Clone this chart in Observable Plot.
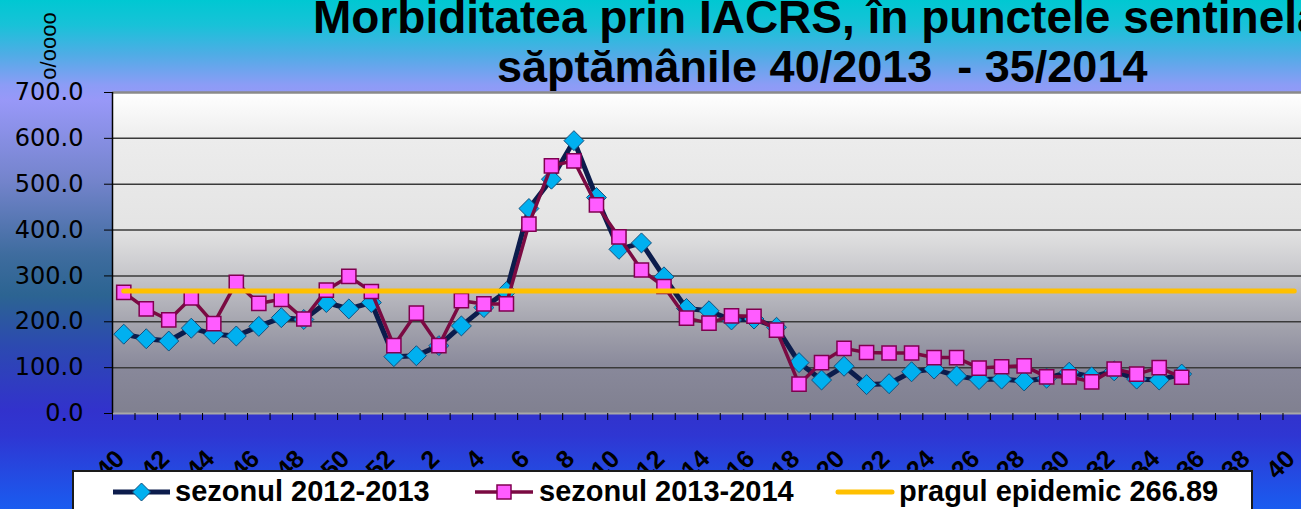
<!DOCTYPE html>
<html>
<head>
<meta charset="utf-8">
<script src="https://cdn.jsdelivr.net/npm/d3@7"></script>
<script src="https://cdn.jsdelivr.net/npm/@observablehq/plot@0.6"></script>
<style>
html, body { margin: 0; padding: 0; }
#wrap {
  position: relative; width: 1301px; height: 509px; overflow: hidden;
  font-family: "Liberation Sans", Arial, sans-serif; color: #000;
  background: linear-gradient(to bottom, #00c8d2 0px, #18c2d8 25px, #50ace6 55px, #8c9cf6 85px, #9898f8 100px, #7484cc 180px, #3e6c9e 255px, #2c6492 295px, #2c4ab0 345px, #3232cc 410px, #2f36d2 435px, #1a5cf0 509px);
}
#chart { position: absolute; left: 0; top: 0; }
.t { position: absolute; white-space: pre; font-weight: bold; line-height: 1; }
#t1 { left: 313px; top: -6px; font-size: 46px; }
#t2 { left: 497px; top: 44px; font-size: 45px; }
#ylab { position: absolute; left: 49px; top: 46px; font-size: 22px; line-height: 1; white-space: nowrap;
  transform: translate(-50%, -50%) rotate(-90deg); }
#legend { position: absolute; left: 72px; top: 470px; width: 1181px; height: 60px; box-sizing: border-box;
  background: #fff; border: 2px solid #1a1a1a; }
.sw { position: absolute; }
.lt { position: absolute; font-weight: bold; font-size: 29px; line-height: 1; white-space: nowrap; top: 477px; }
</style>
</head>
<body>
<div id="wrap">
  <div id="chart"></div>
  <div class="t" id="t1">Morbiditatea prin IACRS, în punctele sentinelă</div>
  <div class="t" id="t2">săptămânile 40/2013  - 35/2014</div>
  <div id="ylab">o/oooo</div>
  <div id="legend"></div>
  <svg class="sw" style="left:113px;top:482px" width="57" height="20">
    <line x1="0" y1="10" x2="57" y2="10" stroke="#0c1c4c" stroke-width="5"/>
    <path d="M28.5,1 L37.5,10 L28.5,19 L19.5,10 Z" fill="#00b0f0" stroke="#14507e" stroke-width="1"/>
  </svg>
  <div class="lt" style="left:175px">sezonul 2012-2013</div>
  <svg class="sw" style="left:475px;top:482px" width="58" height="20">
    <line x1="0" y1="10" x2="58" y2="10" stroke="#7a0a42" stroke-width="3.5"/>
    <rect x="22" y="3" width="14" height="14" fill="#ff5cff" stroke="#800050" stroke-width="1.5"/>
  </svg>
  <div class="lt" style="left:539px">sezonul 2013-2014</div>
  <svg class="sw" style="left:835px;top:482px" width="60" height="20">
    <line x1="3" y1="10" x2="57" y2="10" stroke="#ffc000" stroke-width="5" stroke-linecap="round"/>
  </svg>
  <div class="lt" style="left:899px">pragul epidemic 266.89</div>
</div>
<script>
// Week labels of the category axis (40/2013 ... 40/2014)
const weeks = [40,41,42,43,44,45,46,47,48,49,50,51,52,1,2,3,4,5,6,7,8,9,10,11,12,13,14,15,16,17,18,19,20,21,22,23,24,25,26,27,28,29,30,31,32,33,34,35,36,37,38,39,40];
// Season 2012-2013 (blue diamonds)
const sezon2012_2013 = [173,163,158,186,173,169,190,209,205,242,228,242,124,126,148,191,231,266,447,511,595,471,358,372,298,229,224,204,206,188,111,73,103,63,65,91,97,82,74,75,71,77,90,80,93,75,73,86];
// Season 2013-2014 (pink squares)
const sezon2013_2014 = [264,228,204,252,196,286,240,249,206,269,299,266,148,219,148,246,239,239,413,540,551,455,385,313,277,208,197,213,212,182,64,111,142,133,132,132,122,122,99,102,104,80,80,69,97,86,100,79];
// Epidemic threshold
const pragEpidemic = 266.89;
const yTicks = [0,100,200,300,400,500,600,700];

const idx = d3.range(weeks.length);
const boundaries = d3.range(weeks.length + 1).map(i => i - 0.5);
const labelIdx = idx.filter(i => i % 2 === 0);
const d12 = sezon2012_2013.map((v, i) => ({i, v}));
const d13 = sezon2013_2014.map((v, i) => ({i, v}));
const dPrag = idx.map(i => ({i, v: pragEpidemic}));

const chart = Plot.plot({
  width: 1301, height: 509,
  marginTop: 92, marginBottom: 96, marginLeft: 112, marginRight: 0,
  style: {background: "transparent", overflow: "visible", fontFamily: "Liberation Sans, Arial, sans-serif", color: "#000"},
  x: {domain: [-0.5, weeks.length - 0.5], range: [112, 1305]},
  y: {domain: [0, 700]},
  marks: [
    Plot.frame({fill: "url(#plotbg)", stroke: null}),
    Plot.ruleY(yTicks.slice(1, -1), {stroke: "#3a3a3a", strokeWidth: 1.5}),
    Plot.ruleY([0], {stroke: "#a8a8a8", strokeWidth: 2}),
    Plot.ruleY([700], {stroke: "#8a8a8a", strokeWidth: 2.5}),
    Plot.ruleX([-0.5], {stroke: "#000", strokeWidth: 1.5}),
    Plot.axisY({ticks: yTicks, tickFormat: d3.format(".1f"), tickSize: 8, tickPadding: 21,
      fontSize: 24, fontFamily: "DejaVu Sans", stroke: "#000", color: "#000", label: null}),
    Plot.axisX({ticks: boundaries, tickFormat: () => "", tickSize: 7, stroke: "#000", label: null}),
    Plot.text(labelIdx, {x: d => d, text: d => String(weeks[d]), frameAnchor: "bottom", dy: 47, dx: 2,
      rotate: -45, textAnchor: "end", lineAnchor: "bottom", fontSize: 25, fontWeight: "bold", fill: "#000"}),
    Plot.line(d12, {x: "i", y: "v", stroke: "#0c1c4c", strokeWidth: 5}),
    Plot.dot(d12, {x: "i", y: "v", symbol: "diamond2", r: 9, fill: "#00b0f0", stroke: "#14507e", strokeWidth: 1}),
    Plot.line(d13, {x: "i", y: "v", stroke: "#7a0a42", strokeWidth: 3.5}),
    Plot.dot(d13, {x: "i", y: "v", symbol: "square", r: 8, fill: "#ff5cff", stroke: "#800050", strokeWidth: 1.5}),
    Plot.line(dPrag, {x: "i", y: "v", stroke: "#ffc000", strokeWidth: 5, strokeLinecap: "round"})
  ]
});

const defs = d3.select(chart).insert("defs", ":first-child");
const g = defs.append("linearGradient").attr("id", "plotbg").attr("x1", 0).attr("y1", 0).attr("x2", 0).attr("y2", 1);
[[0, "#ffffff"], [0.15, "#ececec"], [0.42, "#e4e4e4"], [0.56, "#c8c8cc"], [0.72, "#a4a4ae"], [0.86, "#88889a"], [1, "#808090"]]
  .forEach(([o, c]) => g.append("stop").attr("offset", o).attr("stop-color", c));

document.getElementById("chart").appendChild(chart);
</script>
</body>
</html>
